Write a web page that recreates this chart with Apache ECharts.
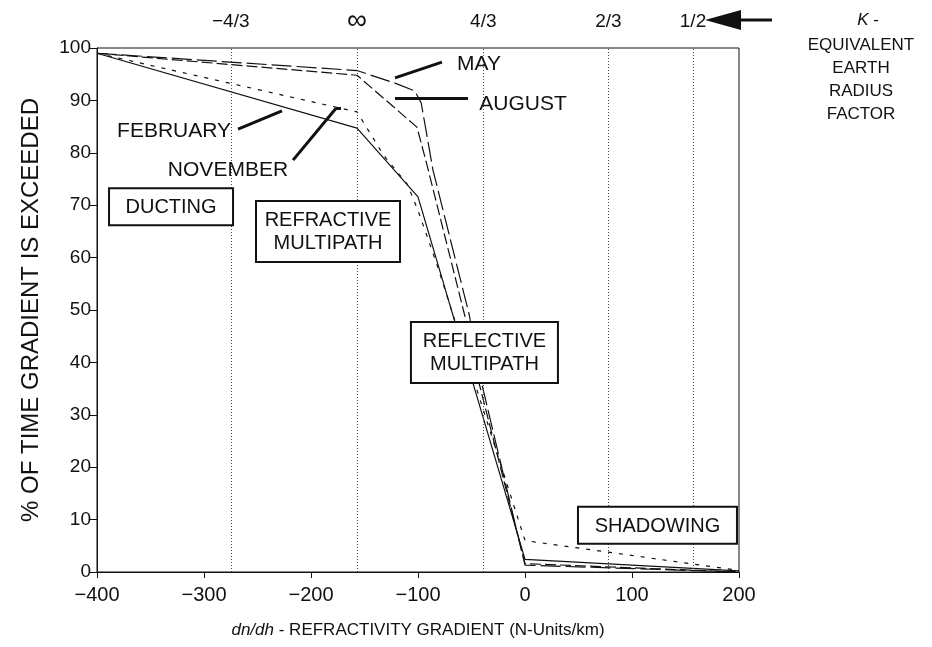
<!DOCTYPE html>
<html>
<head>
<meta charset="utf-8">
<script src="https://cdn.jsdelivr.net/npm/echarts@6/dist/echarts.min.js"></script>
<style>
html,body{margin:0;padding:0;background:#fff;}
#chart{width:932px;height:647px;}
</style>
</head>
<body>
<div id="chart"></div>
<script>
// refractivity gradient (N-units/km) vs % of time exceeded
var february = [[-400, 99], [-157, 84.7], [-100, 71.6], [0, 2.4], [200, 0.2]];
var november = [[-400, 99], [-157, 87.8], [-132, 79.5], [-110, 74], [-100, 69], [-82, 58.5], [0, 6], [200, 0.3]];
var may = [[-400, 99], [-157, 95.7], [-121.5, 93.3], [-103, 91.8], [-97, 89.5], [-86, 76.7], [-52, 49], [-44, 39], [0, 1.3], [200, 0]];
var august = [[-400, 99], [-157, 94.8], [-101, 84.9], [-92, 78], [-56, 48.7], [-46, 38.5], [0, 1.6], [200, 0]];

// K (equivalent earth radius factor) marks along the gradient axis
var kGradients = [-275, -157, -39, 78, 157];
var kLabels = ["\u22124/3", "\u221e", "4/3", "2/3", "1/2"];

var FONT = "'Liberation Sans', Arial, Helvetica, sans-serif";
var INK = "#111";

var chart = echarts.init(document.getElementById("chart"));

function minus(v) { return v < 0 ? "\u2212" + Math.abs(v) : String(v); }

var kLines = [];
for (var i = 0; i < kGradients.length; i++) {
    var inf = kLabels[i] === "\u221e";
    kLines.push({
        xAxis: kGradients[i],
        label: { formatter: kLabels[i], fontSize: inf ? 28 : 19, distance: inf ? 13 : 17 }
    });
}

// leader lines from the month labels to their curves
var leaders = [
    [{ coord: [-268.2, 84.5] }, { coord: [-227.1, 88] }],
    [{ coord: [-216.8, 78.6] }, { coord: [-176.6, 88.5] }],
    [{ coord: [-176.6, 88.5] }, { coord: [-172, 88.5] }],
    [{ coord: [-121.5, 94.3] }, { coord: [-77.6, 97.3] }],
    [{ coord: [-121.5, 90.5] }, { coord: [-53.3, 90.5] }]
];

function lineSeries(name, data, dash) {
    return {
        name: name, type: "line", data: data, symbol: "none", z: 3,
        lineStyle: { color: INK, width: 1.2, type: dash },
        silent: true
    };
}

var option = {
    animation: false,
    grid: { left: 97, right: 193, top: 48, bottom: 75, show: true, borderColor: INK, borderWidth: 1 },
    xAxis: {
        type: "value", min: -400, max: 200, interval: 100,
        name: "{i|dn/dh} - REFRACTIVITY GRADIENT (N-Units/km)",
        nameLocation: "middle", nameGap: 50,
        nameTextStyle: { color: INK, fontSize: 17, fontFamily: FONT, rich: { i: { fontStyle: "italic", fontSize: 17, fontFamily: FONT, color: INK } } },
        axisLine: { onZero: false, lineStyle: { color: INK, width: 1 } },
        axisTick: { inside: false, length: 6, lineStyle: { color: INK } },
        axisLabel: { color: INK, fontSize: 20, fontFamily: FONT, margin: 13, formatter: minus },
        splitLine: { show: false }
    },
    yAxis: {
        type: "value", min: 0, max: 100, interval: 10,
        name: "% OF TIME GRADIENT IS EXCEEDED",
        nameLocation: "middle", nameGap: 54, nameRotate: 90,
        nameTextStyle: { color: INK, fontSize: 24, fontFamily: FONT },
        axisLine: { onZero: false, lineStyle: { color: INK, width: 1 } },
        axisTick: { inside: false, length: 7, lineStyle: { color: INK } },
        axisLabel: { color: INK, fontSize: 19, fontFamily: FONT, margin: 6 },
        splitLine: { show: false }
    },
    series: [
        (function () {
            var s = lineSeries("FEBRUARY", february, "solid");
            s.markLine = {
                silent: true, symbol: ["none", "none"], animation: false,
                lineStyle: { color: "#444", width: 1, type: [1, 2] },
                label: { show: true, position: "end", color: INK, fontFamily: FONT },
                data: kLines
            };
            return s;
        })(),
        (function () {
            var s = lineSeries("NOVEMBER", november, [4, 7]);
            s.markLine = {
                silent: true, symbol: ["none", "none"], animation: false,
                lineStyle: { color: INK, width: 3, type: "solid" },
                label: { show: false },
                data: leaders
            };
            return s;
        })(),
        lineSeries("MAY", may, [20, 5]),
        lineSeries("AUGUST", august, [11, 4])
    ]
};
chart.setOption(option);

function px(p) { return chart.convertToPixel({ gridIndex: 0 }, p); }

function label(text, at) {
    var p = px(at);
    return { type: "text", z: 100, style: { text: text, x: p[0], y: p[1], fill: INK, font: "21px " + FONT, align: "center", verticalAlign: "middle" } };
}

function box(text, at, w, h) {
    var p = px(at);
    return {
        type: "group", x: p[0], y: p[1], z: 100,
        children: [
            { type: "rect", z: 100, shape: { x: -w / 2, y: -h / 2, width: w, height: h }, style: { fill: "#fff", stroke: INK, lineWidth: 2 } },
            { type: "text", z: 101, style: { text: text, x: 0, y: 1, fill: INK, font: "20px " + FONT, align: "center", verticalAlign: "middle", lineHeight: 23 } }
        ]
    };
}

var graphics = [
    label("FEBRUARY", [-328, 84.1]),
    label("NOVEMBER", [-277.6, 76.7]),
    label("MAY", [-43, 96.9]),
    label("AUGUST", [-1.9, 89.3]),
    box("DUCTING", [-330.8, 69.7], 124, 37),
    box("REFRACTIVE\nMULTIPATH", [-184.1, 65], 144, 61),
    box("REFLECTIVE\nMULTIPATH", [-37.9, 41.9], 147, 61),
    box("SHADOWING", [123.8, 8.9], 159, 37),
    // arrow pointing at the K scale
    { type: "polygon", z: 100, shape: { points: [[705, 20], [741, 10], [741, 30]] }, style: { fill: INK } },
    { type: "line", z: 100, shape: { x1: 738, y1: 20, x2: 772, y2: 20 }, style: { stroke: INK, lineWidth: 3 } },
    { type: "text", z: 100, style: { text: "{i|K} -", x: 868, y: 20, fill: INK, font: "17px " + FONT, align: "center", verticalAlign: "middle", rich: { i: { fontStyle: "italic", fontSize: 17, fontFamily: FONT, fill: INK } } } },
    { type: "text", z: 100, style: { text: "EQUIVALENT\nEARTH\nRADIUS\nFACTOR", x: 861, y: 34, fill: INK, font: "17px " + FONT, align: "center", verticalAlign: "top", lineHeight: 23 } }
];
chart.setOption({ graphic: graphics });
</script>
</body>
</html>
